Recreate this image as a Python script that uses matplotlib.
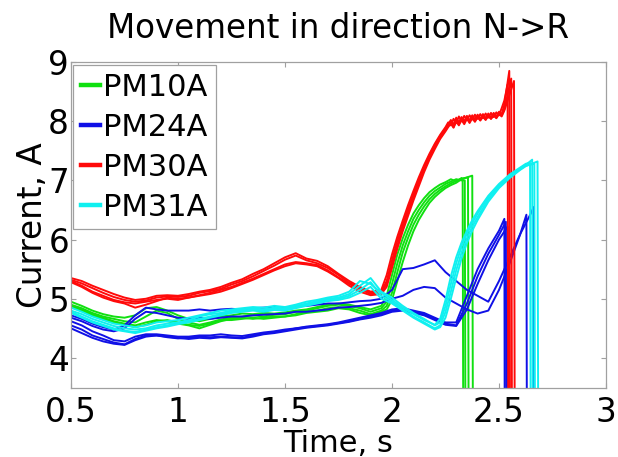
import matplotlib
matplotlib.use("Agg")
import matplotlib.pyplot as plt

# sample times shared by every run before the switching phase
BASE_T = [0.50, 0.55, 0.60, 0.65, 0.70, 0.75, 0.80, 0.85, 0.90, 0.95,
          1.00, 1.05, 1.10, 1.15, 1.20, 1.25, 1.30, 1.35, 1.40, 1.45,
          1.50, 1.55, 1.60, 1.65, 1.70, 1.75, 1.80, 1.85, 1.90, 1.95]

# ---- PM10A (green) ----
GREEN_BASE = [
    [4.95, 4.88, 4.80, 4.74, 4.70, 4.68, 4.72, 4.84, 4.86, 4.80, 4.72, 4.66, 4.62, 4.66, 4.70,
     4.72, 4.75, 4.74, 4.76, 4.75, 4.77, 4.80, 4.82, 4.86, 4.90, 4.92, 4.90, 4.86, 4.82, 4.88],
    [4.90, 4.84, 4.76, 4.70, 4.66, 4.62, 4.60, 4.70, 4.80, 4.76, 4.66, 4.60, 4.56, 4.60, 4.65,
     4.68, 4.70, 4.72, 4.70, 4.73, 4.74, 4.78, 4.80, 4.84, 4.88, 4.90, 4.88, 4.84, 4.78, 4.84],
    [4.88, 4.82, 4.74, 4.68, 4.62, 4.58, 4.55, 4.60, 4.64, 4.62, 4.58, 4.55, 4.50, 4.56, 4.62,
     4.66, 4.68, 4.66, 4.68, 4.70, 4.70, 4.74, 4.78, 4.80, 4.84, 4.86, 4.84, 4.80, 4.74, 4.80],
    [4.86, 4.80, 4.72, 4.66, 4.60, 4.56, 4.52, 4.56, 4.62, 4.64, 4.60, 4.56, 4.54, 4.58, 4.64,
     4.64, 4.66, 4.68, 4.66, 4.68, 4.70, 4.72, 4.76, 4.78, 4.80, 4.84, 4.82, 4.76, 4.72, 4.78],
]
GREEN_T2 = [1.975, 2.0, 2.025, 2.05, 2.075, 2.1, 2.125, 2.15, 2.175, 2.2, 2.225, 2.25, 2.275, 2.3, 2.325]
GREEN_RISE = [
    [5.05, 5.40, 5.75, 6.02, 6.25, 6.44, 6.58, 6.70, 6.80, 6.87, 6.93, 6.97, 7.02, 6.98, 7.04],
    [4.95, 5.25, 5.60, 5.90, 6.14, 6.35, 6.50, 6.63, 6.74, 6.82, 6.88, 6.94, 6.98, 7.02, 7.00],
    [4.88, 5.10, 5.45, 5.78, 6.03, 6.25, 6.42, 6.56, 6.68, 6.77, 6.84, 6.90, 6.95, 6.99, 7.03],
    [4.82, 4.98, 5.30, 5.62, 5.90, 6.14, 6.33, 6.48, 6.62, 6.72, 6.80, 6.87, 6.92, 6.96, 7.02],
]
GREEN_PEAK_T = [2.330, 2.340, 2.355, 2.375]
GREEN_PEAK = [7.02, 7.00, 7.05, 7.08]
GREEN_OFF_T = [2.335, 2.345, 2.360, 2.380]

# ---- PM24A (blue) ----
BLUE_BASE = [
    [4.62, 4.55, 4.45, 4.38, 4.30, 4.28, 4.36, 4.40, 4.40, 4.38, 4.36, 4.36, 4.38, 4.38, 4.40,
     4.38, 4.37, 4.40, 4.43, 4.45, 4.48, 4.50, 4.53, 4.55, 4.57, 4.60, 4.64, 4.68, 4.72, 4.76],
    [4.55, 4.48, 4.38, 4.32, 4.26, 4.23, 4.32, 4.38, 4.38, 4.35, 4.33, 4.34, 4.36, 4.35, 4.36,
     4.35, 4.34, 4.38, 4.41, 4.44, 4.46, 4.50, 4.52, 4.54, 4.56, 4.59, 4.62, 4.66, 4.70, 4.74],
    [4.50, 4.42, 4.34, 4.28, 4.24, 4.22, 4.30, 4.36, 4.38, 4.36, 4.34, 4.32, 4.34, 4.33, 4.35,
     4.34, 4.33, 4.36, 4.40, 4.42, 4.45, 4.48, 4.51, 4.53, 4.55, 4.58, 4.61, 4.65, 4.68, 4.72],
    [4.72, 4.66, 4.58, 4.52, 4.48, 4.55, 4.72, 4.85, 4.82, 4.80, 4.80, 4.80, 4.82, 4.80, 4.82,
     4.83, 4.82, 4.84, 4.85, 4.86, 4.85, 4.87, 4.88, 4.90, 4.92, 4.92, 4.94, 4.96, 4.97, 5.00],
    [4.68, 4.62, 4.54, 4.48, 4.45, 4.50, 4.66, 4.78, 4.76, 4.72, 4.68, 4.66, 4.68, 4.66, 4.68,
     4.70, 4.70, 4.72, 4.73, 4.74, 4.75, 4.78, 4.78, 4.80, 4.82, 4.85, 4.86, 4.88, 4.90, 4.93],
]
BLUE_T2 = [2.0, 2.05, 2.1, 2.15, 2.2, 2.25, 2.3, 2.35, 2.4, 2.45, 2.5, 2.55, 2.6, 2.65]
BLUE_RISE = [
    [4.82, 4.84, 4.80, 4.76, 4.68, 4.60, 4.60, 5.05, 5.50, 5.85, 6.15],
    [4.80, 4.82, 4.78, 4.74, 4.66, 4.58, 4.55, 4.92, 5.38, 5.76, 6.08],
    [4.78, 4.80, 4.76, 4.72, 4.64, 4.56, 4.54, 4.82, 5.25, 5.65, 6.00],
    [5.15, 5.50, 5.52, 5.58, 5.65, 5.45, 5.30, 5.15, 5.05, 4.95, 5.30, 5.70, 6.10, 6.45],
    [5.00, 5.05, 5.15, 5.20, 5.18, 5.02, 4.92, 4.82, 4.75, 4.80, 5.15, 5.60, 6.10],
]
BLUE_PEAK_T = [2.525, 2.532, 2.540, 2.662, 2.628]
BLUE_PEAK = [6.35, 6.30, 6.22, 6.55, 6.42]
BLUE_OFF_T = [2.528, 2.535, 2.545, 2.665, 2.632]

# ---- PM30A (red) ----
RED_BASE = [
    [5.35, 5.30, 5.22, 5.15, 5.08, 5.02, 4.98, 5.00, 5.05, 5.06, 5.05, 5.08, 5.12, 5.15, 5.20,
     5.27, 5.33, 5.42, 5.50, 5.60, 5.70, 5.77, 5.68, 5.64, 5.55, 5.42, 5.30, 5.20, 5.12, 5.15],
    [5.32, 5.26, 5.18, 5.10, 5.03, 4.98, 4.95, 4.97, 5.02, 5.04, 5.03, 5.05, 5.10, 5.13, 5.17,
     5.24, 5.30, 5.38, 5.47, 5.56, 5.66, 5.73, 5.65, 5.60, 5.52, 5.40, 5.27, 5.18, 5.10, 5.12],
    [5.30, 5.22, 5.12, 5.05, 4.98, 4.94, 4.92, 4.95, 4.98, 5.00, 4.98, 5.02, 5.06, 5.10, 5.15,
     5.20, 5.27, 5.34, 5.42, 5.50, 5.58, 5.62, 5.60, 5.57, 5.48, 5.36, 5.25, 5.16, 5.08, 5.10],
    [5.28, 5.20, 5.10, 5.02, 4.96, 4.92, 4.85, 4.90, 4.96, 5.02, 5.00, 5.02, 5.05, 5.08, 5.12,
     5.18, 5.25, 5.32, 5.40, 5.48, 5.55, 5.60, 5.58, 5.55, 5.46, 5.35, 5.22, 5.12, 5.06, 5.08],
]
RED_T2 = [1.975, 2.0, 2.025, 2.05, 2.075, 2.1, 2.125, 2.15, 2.175, 2.2, 2.225, 2.25,
          2.2625, 2.275, 2.2875, 2.3, 2.3125, 2.325, 2.3375, 2.35, 2.3625, 2.375, 2.3875,
          2.4, 2.4125, 2.425, 2.4375, 2.45, 2.4625, 2.475, 2.4875, 2.5, 2.5125, 2.525]
RED_RISE = [
    [5.40, 5.75, 6.05, 6.32, 6.58, 6.82, 7.05, 7.26, 7.45, 7.62, 7.77, 7.90,
     7.98, 7.93, 8.04, 7.97, 8.08, 8.00, 8.09, 8.02, 8.10, 8.03, 8.11, 8.04, 8.12, 8.05, 8.13,
     8.06, 8.14, 8.07, 8.15, 8.10, 8.22, 8.35],
    [5.30, 5.65, 5.98, 6.25, 6.52, 6.76, 7.00, 7.22, 7.42, 7.60, 7.75, 7.88,
     7.95, 8.02, 7.94, 8.06, 7.98, 8.07, 8.00, 8.09, 8.01, 8.10, 8.03, 8.11, 8.04, 8.12, 8.05,
     8.13, 8.06, 8.14, 8.08, 8.16, 8.12, 8.28],
    [5.25, 5.58, 5.90, 6.20, 6.46, 6.70, 6.95, 7.18, 7.38, 7.56, 7.72, 7.85,
     7.92, 7.98, 7.90, 8.02, 7.95, 8.04, 7.97, 8.06, 7.99, 8.07, 8.00, 8.08, 8.02, 8.09, 8.03,
     8.10, 8.04, 8.11, 8.06, 8.13, 8.10, 8.20],
    [5.20, 5.52, 5.85, 6.14, 6.40, 6.66, 6.90, 7.14, 7.35, 7.53, 7.70, 7.83,
     7.90, 7.96, 7.89, 7.99, 7.93, 8.02, 7.95, 8.04, 7.97, 8.05, 7.99, 8.07, 8.01, 8.08, 8.02,
     8.09, 8.04, 8.10, 8.05, 8.12, 8.08, 8.18],
]
RED_PEAK_T = [2.540, 2.548, 2.557, 2.570]
RED_PEAK = [8.62, 8.85, 8.72, 8.68]
RED_OFF_T = [2.545, 2.553, 2.562, 2.575]

# ---- PM31A (cyan) ----
CYAN_BASE = [
    [4.85, 4.78, 4.70, 4.64, 4.58, 4.55, 4.52, 4.55, 4.60, 4.62, 4.64, 4.68, 4.72, 4.76, 4.80,
     4.82, 4.84, 4.86, 4.85, 4.88, 4.86, 4.90, 4.95, 4.98, 5.02, 5.05, 5.12, 5.30, 5.25, 5.10],
    [4.80, 4.74, 4.66, 4.60, 4.54, 4.50, 4.48, 4.50, 4.55, 4.58, 4.60, 4.64, 4.70, 4.74, 4.76,
     4.80, 4.82, 4.84, 4.82, 4.85, 4.84, 4.88, 4.92, 4.96, 5.00, 5.02, 5.08, 5.22, 5.35, 5.12],
    [4.78, 4.70, 4.62, 4.56, 4.50, 4.46, 4.44, 4.48, 4.52, 4.55, 4.58, 4.62, 4.66, 4.70, 4.74,
     4.78, 4.80, 4.82, 4.80, 4.83, 4.82, 4.86, 4.90, 4.94, 4.98, 5.00, 5.05, 5.15, 5.28, 5.05],
    [4.76, 4.68, 4.60, 4.54, 4.48, 4.45, 4.42, 4.46, 4.50, 4.53, 4.57, 4.60, 4.64, 4.68, 4.72,
     4.76, 4.78, 4.80, 4.78, 4.81, 4.80, 4.84, 4.88, 4.92, 4.96, 4.98, 5.02, 5.10, 5.20, 5.00],
]
CYAN_T2 = [2.0, 2.05, 2.1, 2.15, 2.2, 2.225, 2.25, 2.275, 2.3, 2.325, 2.35, 2.375, 2.4,
           2.45, 2.5, 2.55, 2.6, 2.625]
CYAN_RISE = [
    [4.98, 4.85, 4.74, 4.64, 4.56, 4.66, 4.98, 5.38, 5.70, 5.95, 6.15, 6.33, 6.48, 6.74, 6.94, 7.10, 7.22, 7.28],
    [5.02, 4.88, 4.76, 4.66, 4.55, 4.60, 4.88, 5.25, 5.60, 5.88, 6.10, 6.28, 6.44, 6.72, 6.92, 7.08, 7.20, 7.26],
    [4.95, 4.82, 4.70, 4.60, 4.50, 4.55, 4.78, 5.12, 5.48, 5.78, 6.02, 6.22, 6.38, 6.68, 6.90, 7.06, 7.19, 7.25],
    [4.92, 4.80, 4.68, 4.58, 4.48, 4.52, 4.68, 5.00, 5.35, 5.68, 5.94, 6.15, 6.33, 6.64, 6.87, 7.04, 7.18, 7.24],
]
CYAN_PEAK_T = [2.645, 2.655, 2.665, 2.680]
CYAN_PEAK = [7.30, 7.35, 7.28, 7.32]
CYAN_OFF_T = [2.650, 2.660, 2.670, 2.685]

X_TICKS = [0.5, 1, 1.5, 2, 2.5, 3]
X_TICK_LABELS = ["0.5", "1", "1.5", "2", "2.5", "3"]
Y_TICKS = [4, 5, 6, 7, 8, 9]
Y_TICK_LABELS = ["4", "5", "6", "7", "8", "9"]

GROUPS = [
    ("PM10A", "#10e010", GREEN_BASE, GREEN_T2, GREEN_RISE, GREEN_PEAK_T, GREEN_PEAK, GREEN_OFF_T),
    ("PM24A", "#1010e6", BLUE_BASE, BLUE_T2, BLUE_RISE, BLUE_PEAK_T, BLUE_PEAK, BLUE_OFF_T),
    ("PM30A", "#ff0a0a", RED_BASE, RED_T2, RED_RISE, RED_PEAK_T, RED_PEAK, RED_OFF_T),
    ("PM31A", "#10f0f0", CYAN_BASE, CYAN_T2, CYAN_RISE, CYAN_PEAK_T, CYAN_PEAK, CYAN_OFF_T),
]

plt.rcParams["font.family"] = "DejaVu Sans"

fig = plt.figure(figsize=(6.18, 4.57), dpi=100)
ax = fig.add_axes([0.1149, 0.152, 0.8657, 0.7123])

handles = []
for name, color, base, t2, rise, peak_t, peak, off_t in GROUPS:
    for i in range(len(base)):
        seg = rise[i]
        x = BASE_T + t2[:len(seg)] + [peak_t[i], off_t[i]]
        y = base[i] + seg + [peak[i], 0.0]
        ax.plot(x, y, color=color, lw=1.4)
    handles.append(plt.Line2D([], [], color=color, lw=3.2, label=name))

ax.set_xlim(0.5, 3)
ax.set_ylim(3.5, 9)
ax.set_xticks(X_TICKS)
ax.set_xticklabels(X_TICK_LABELS)
ax.set_yticks(Y_TICKS)
ax.set_yticklabels(Y_TICK_LABELS)

frame_gray = "#a0a0a0"
for sp in ax.spines.values():
    sp.set_color(frame_gray)
    sp.set_linewidth(0.9)
ax.tick_params(axis="both", which="both", direction="in", length=3.5, width=0.8,
               color=frame_gray, labelcolor="black", labelsize=23.5,
               top=True, right=True)
ax.tick_params(axis="x", pad=6)
ax.tick_params(axis="y", pad=1.5)

ax.set_title("Movement in direction N->R", fontsize=23.5, pad=17)
ax.set_xlabel("Time, s", fontsize=22, labelpad=0)
ax.set_ylabel("Current, A", fontsize=23.5, labelpad=-1)

leg = ax.legend(handles=handles, loc="upper left", bbox_to_anchor=(0.004, 0.991),
                borderaxespad=0, fontsize=22, handlelength=0.62, handletextpad=0.12,
                borderpad=0.25, labelspacing=0.36, fancybox=False, framealpha=1)
leg.get_frame().set_edgecolor(frame_gray)
leg.get_frame().set_linewidth(0.9)

fig.savefig("out.png", dpi=100)
